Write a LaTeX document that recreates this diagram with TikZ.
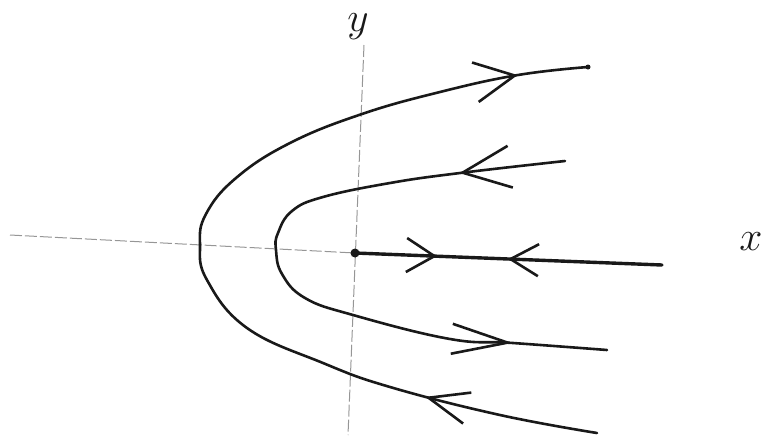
\documentclass[tikz,border=0pt]{standalone}
\usepackage{amsmath,amssymb}
\usepackage{xcolor}
\usepackage{tikz}
\usetikzlibrary{arrows.meta,decorations.markings}
\definecolor{axisgray}{RGB}{150,150,150}
\definecolor{inkblack}{RGB}{25,25,25}
\tikzset{
  axisline/.style  = {axisgray, line width=0.5pt, dash pattern=on 6pt off 1.5pt},
  orbit/.style     = {inkblack, line width=1.3pt, line cap=round},
  rayline/.style   = {inkblack, line width=1.7pt, line cap=round},
  fwdmark/.style n args  = {3}{postaction={decorate, decoration={markings,
      mark=at position #1 with {\arrow{Straight Barb[length=#2,width=#3,line width=1.3pt]}}}}},
  backmark/.style n args = {3}{postaction={decorate, decoration={markings,
      mark=at position #1 with {\arrowreversed{Straight Barb[length=#2,width=#3,line width=1.3pt]}}}}},
  axislbl/.style   = {inner sep=0pt, inkblack}
}

\begin{document}
\begin{tikzpicture}[x=0.5pt, y=-0.5pt]
  \useasboundingbox (0,0) rectangle (761,440);
  % Axes
  \coordinate (xl) at (10,235);
  \coordinate (o)  at (355,253);
  \coordinate (yt) at (364,45);
  \coordinate (yb) at (348,435);
  \draw[axisline] (xl) -- (o);
  \draw[axisline] (yt) -- (yb);
  \node[axislbl, font=\huge] (ylbl) at (358,27) {$y$};
  \node[axislbl, font=\huge] (xlbl) at (751,242) {$x$};
  % Outer orbit
  \draw[orbit, backmark={0.077}{20pt}{20pt}, backmark={0.809}{20pt}{16pt}]
    plot[smooth, tension=0.7] coordinates {
    (588,67) (518,75) (440,92) (362,114) (290,143) (236,178) (206,214)
    (200,245) (207,280) (247,328) (323,363) (390,387) (500,415) (597,433)};
  \fill[inkblack] (588,67) circle (2.5);
  % Inner orbit
  \draw[orbit, fwdmark={0.154}{24pt}{21pt}, fwdmark={0.863}{28pt}{15pt}]
    plot[smooth, tension=0.7] coordinates {
    (565,161) (460,173) (390,183) (323,197) (292,211) (278,233) (276,250)
    (282,274) (305,298) (353,315) (450,339) (513,343) (607,350)};
  % Ray on the x axis
  \coordinate (re) at (662,265);
  \draw[rayline, fwdmark={0.267}{14pt}{17pt}, backmark={0.498}{14pt}{16pt}] (o) -- (re);
  \fill[inkblack] (o) circle (4.5);
\end{tikzpicture}
\end{document}
